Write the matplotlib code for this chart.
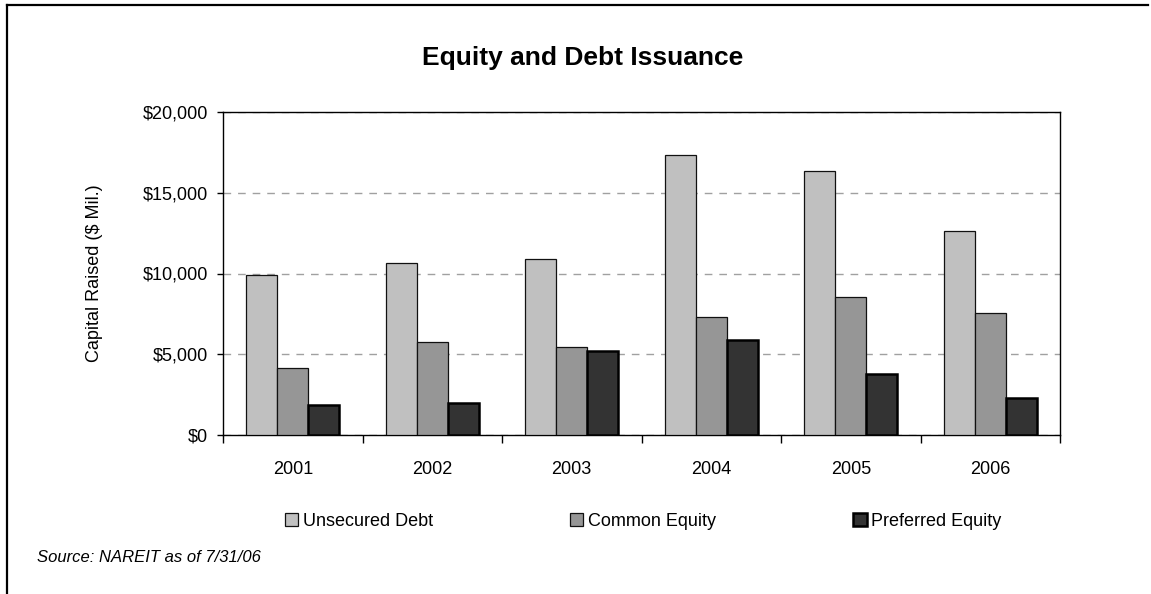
import matplotlib
matplotlib.use("Agg")
import matplotlib.pyplot as plt
from matplotlib.lines import Line2D
from matplotlib.ticker import FuncFormatter, FixedLocator
from matplotlib import font_manager
import numpy as np

years = ["2001", "2002", "2003", "2004", "2005", "2006"]
unsecured_debt = [9900, 10630, 10900, 17340, 16330, 12610]
common_equity = [4170, 5780, 5430, 7330, 8530, 7530]
preferred_equity = [1860, 1960, 5200, 5880, 3780, 2290]
series_names = ["Unsecured Debt", "Common Equity", "Preferred Equity"]

names = {f.name for f in font_manager.fontManager.ttflist}
family = "Liberation Sans Narrow" if "Liberation Sans Narrow" in names else "Liberation Sans"
plt.rcParams["font.family"] = [family, "DejaVu Sans"]

W, H = 1151, 594
fig = plt.figure(figsize=(W / 100, H / 100), dpi=100)

# outer chart frame (top and left edges)
fig.add_artist(Line2D([7 / W, 1148 / W], [1 - 5 / H, 1 - 5 / H], color="black", lw=1.6,
                      transform=fig.transFigure))
fig.add_artist(Line2D([7 / W, 7 / W], [1 - 5 / H, 0], color="black", lw=1.6,
                      transform=fig.transFigure))

ax = fig.add_axes([223 / W, 1 - 435 / H, 837 / W, 323 / H])

x = np.arange(len(years))
w = 0.222
ax.bar(x - w, unsecured_debt, w, color="#c0c0c0", edgecolor="#111111", linewidth=0.9,
       label=series_names[0], zorder=3)
ax.bar(x, common_equity, w, color="#969696", edgecolor="#111111", linewidth=0.9,
       label=series_names[1], zorder=3)
ax.bar(x + w, preferred_equity, w, color="#333333", edgecolor="#000000", linewidth=1.8,
       label=series_names[2], zorder=3)

ax.set_xlim(-0.5, len(years) - 0.5)
ax.set_ylim(0, 20000)
ax.set_yticks([0, 5000, 10000, 15000, 20000])
ax.yaxis.set_major_formatter(FuncFormatter(lambda v, p: f"${v:,.0f}"))
ax.grid(axis="y", color="#a0a0a0", linestyle=(0, (5.5, 5)), linewidth=1.0, zorder=0)

ax.set_xticks(x)
ax.set_xticklabels(years)
ax.xaxis.set_minor_locator(FixedLocator(np.arange(-0.5, len(years), 1.0)))
ax.tick_params(axis="x", which="major", length=0, pad=19, labelsize=13)
ax.tick_params(axis="x", which="minor", length=6, width=1, color="black", direction="out")
ax.tick_params(axis="y", length=4, width=1, direction="out", labelsize=13, pad=7)

for s in ax.spines.values():
    s.set_color("black")
    s.set_linewidth(1.0)

ax.set_ylabel("Capital Raised ($ Mil.)", fontsize=13, labelpad=28)

fig.text(583 / W, 1 - 58 / H, "Equity and Debt Issuance", ha="center", va="center",
         fontsize=19, fontweight="bold")

leg = fig.legend(loc="center", bbox_to_anchor=(643 / W, 1 - 521 / H), ncol=3, frameon=False,
                 fontsize=13, handlelength=0.75, handleheight=0.75, handletextpad=0.25,
                 columnspacing=7.6)

fig.text(37 / W, 1 - 557 / H, "Source: NAREIT as of 7/31/06", ha="left", va="center",
         fontsize=12, style="italic")

fig.savefig("out.png", dpi=100)
